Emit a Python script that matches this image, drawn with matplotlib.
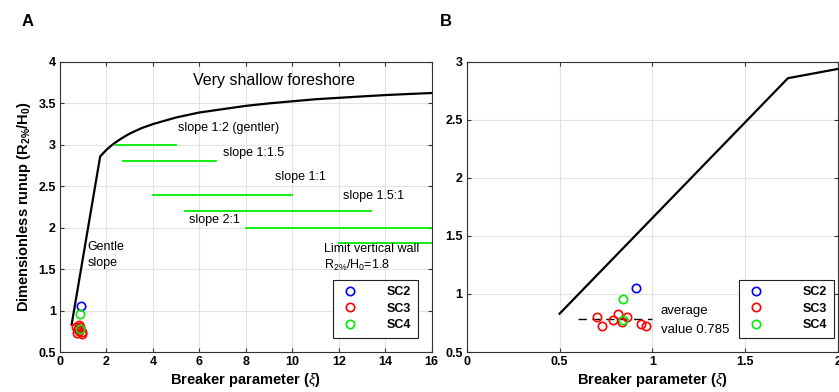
import matplotlib.pyplot as plt
import matplotlib.lines as mlines

plt.rcParams['font.family'] = ['Liberation Sans', 'DejaVu Sans']
plt.rcParams['mathtext.fontset'] = 'custom'
plt.rcParams['mathtext.rm'] = 'Liberation Sans'
plt.rcParams['mathtext.it'] = 'Liberation Sans:italic'
plt.rcParams['mathtext.bf'] = 'Liberation Sans:bold'

# design curve
curve_x = [0.5, 1.73, 2.0, 2.25, 2.5, 2.75, 3.0, 3.5, 4.0, 4.5, 5.0, 6.0, 7.0, 8.0,
           9.0, 10.0, 11.0, 12.0, 13.0, 14.0, 15.0, 16.0]
curve_y = [0.83, 2.86, 2.94, 3.0, 3.05, 3.095, 3.135, 3.20, 3.25, 3.29, 3.33, 3.39,
           3.43, 3.47, 3.50, 3.525, 3.55, 3.567, 3.584, 3.60, 3.613, 3.625]

# slope ranges (green lines)
slope_labels = ['slope 1:2 (gentler)', 'slope 1:1.5', 'slope 1:1', 'slope 1.5:1', 'slope 2:1']
slope_y = [3.0, 2.8, 2.4, 2.2, 2.0]
slope_x0 = [2.4, 2.7, 4.0, 5.4, 8.0]
slope_x1 = [5.0, 6.7, 10.0, 13.4, 16.0]
label_pos = [(5.1, 3.13), (7.0, 2.83), (9.25, 2.54), (12.2, 2.31), (5.55, 2.02)]
wall_y = 1.82
wall_x = [12.0, 16.0]

# measured runup
sc2_x = [0.91]
sc2_y = [1.05]
sc3_x = [0.70, 0.73, 0.79, 0.815, 0.835, 0.865, 0.94, 0.965]
sc3_y = [0.80, 0.727, 0.778, 0.824, 0.755, 0.80, 0.74, 0.722]
sc4_x = [0.84, 0.84]
sc4_y = [0.955, 0.775]
avg_val = 0.785

fig = plt.figure(figsize=(8.39, 3.92), dpi=100)
axA = fig.add_axes([0.0715, 0.102, 0.443, 0.740])
axB = fig.add_axes([0.5563, 0.102, 0.4426, 0.740])


def style(ax):
    ax.grid(True, color='#e3e3e3', linewidth=0.8)
    ax.set_axisbelow(True)
    ax.tick_params(direction='in', length=3, top=True, right=True, labelsize=9,
                   color='#333333', pad=3)
    for lab in ax.get_xticklabels() + ax.get_yticklabels():
        lab.set_fontweight('bold')
    for s in ax.spines.values():
        s.set_color('#333333')
        s.set_linewidth(0.8)
    ax.set_xlabel(r'Breaker parameter ($\mathit{\xi}$)', fontsize=10.5,
                  fontweight='bold', labelpad=2)


def scatter(ax):
    kw = dict(marker='o', linestyle='none', markerfacecolor='none',
              markersize=6, markeredgewidth=1.2)
    ax.plot(sc3_x, sc3_y, color='#ff0000', **kw)
    ax.plot(sc2_x, sc2_y, color='#0000ff', **kw)
    ax.plot(sc4_x, sc4_y, color='#00ee00', **kw)


def legend(ax, anchor, pad):
    kw = dict(marker='o', linestyle='none', markerfacecolor='none',
              markersize=6, markeredgewidth=1.2)
    handles = [mlines.Line2D([], [], color='#0000ff', **kw),
               mlines.Line2D([], [], color='#ff0000', **kw),
               mlines.Line2D([], [], color='#00ee00', **kw)]
    leg = ax.legend(handles, ['SC2', 'SC3', 'SC4'], loc='lower right',
                    bbox_to_anchor=anchor, fancybox=False,
                    edgecolor='#222222', framealpha=1, borderpad=0.55,
                    handletextpad=pad, labelspacing=0.35, handlelength=1.5,
                    borderaxespad=0, prop={'weight': 'bold', 'size': 9})
    leg.get_frame().set_linewidth(0.8)


# ---- panel A
axA.plot(curve_x, curve_y, color='black', linewidth=1.6)
for x0, x1, y in zip(slope_x0, slope_x1, slope_y):
    axA.plot([x0, x1], [y, y], color='#00ee00', linewidth=1.3)
axA.plot(wall_x, [wall_y, wall_y], color='#00ee00', linewidth=1.3)
for lab, (tx, ty) in zip(slope_labels, label_pos):
    axA.text(tx, ty, lab, fontsize=9, va='bottom', ha='left')
axA.text(9.2, 3.77, 'Very shallow foreshore', fontsize=11.5, ha='center', va='center')
axA.text(1.17, 1.77, 'Gentle', fontsize=9, ha='left', va='center')
axA.text(1.17, 1.58, 'slope', fontsize=9, ha='left', va='center')
axA.text(11.37, 1.74, 'Limit vertical wall', fontsize=9, ha='left', va='center')
axA.text(11.37, 1.54, r'R$_{2\%}$/H$_0$=1.8', fontsize=9, ha='left', va='center')
scatter(axA)
axA.set_xlim(0, 16)
axA.set_ylim(0.5, 4)
axA.set_xticks(range(0, 17, 2))
axA.set_yticks([0.5, 1, 1.5, 2, 2.5, 3, 3.5, 4])
axA.set_yticklabels(['0.5', '1', '1.5', '2', '2.5', '3', '3.5', '4'])
style(axA)
axA.set_ylabel(r'Dimensionless runup (R$_{\mathbf{2\%}}$/H$_{\mathbf{0}}$)',
               fontsize=10.5, fontweight='bold', labelpad=4)
legend(axA, (0.963, 0.048), 2.2)

# ---- panel B
axB.plot(curve_x, curve_y, color='black', linewidth=1.6)
axB.plot([0.6, 1.0], [avg_val, avg_val], color='black', linestyle=(0, (6, 4)),
         linewidth=1.0)
scatter(axB)
axB.text(1.045, 0.855, 'average', fontsize=9.5, ha='left', va='center')
axB.text(1.045, 0.694, 'value 0.785', fontsize=9.5, ha='left', va='center')
axB.set_xlim(0, 2)
axB.set_ylim(0.5, 3)
axB.set_xticks([0, 0.5, 1, 1.5, 2])
axB.set_xticklabels(['0', '0.5', '1', '1.5', '2'])
axB.set_yticks([0.5, 1, 1.5, 2, 2.5, 3])
axB.set_yticklabels(['0.5', '1', '1.5', '2', '2.5', '3'])
style(axB)
legend(axB, (0.989, 0.048), 3.0)

fig.text(22 / 839, 1 - 22 / 392, 'A', fontsize=12, fontweight='bold', va='center')
fig.text(440 / 839, 1 - 22 / 392, 'B', fontsize=12, fontweight='bold', va='center')

fig.savefig('out.png', dpi=100)
